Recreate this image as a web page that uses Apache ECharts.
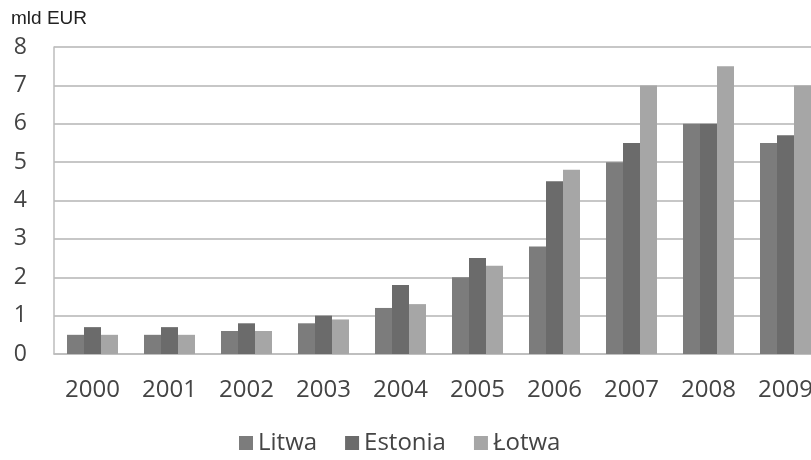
<!DOCTYPE html>
<html>
<head>
<meta charset="utf-8">
<script src="https://cdn.jsdelivr.net/npm/echarts@6/dist/echarts.min.js"></script>
<style>
  html, body { margin: 0; padding: 0; background: #fff; overflow: hidden; }
  /* a bit wider than the window so the last year group is cut off like in the source */
  #chart { width: 824px; height: 460px; }
</style>
</head>
<body>
<div id="chart"></div>
<script>
var years = ["2000", "2001", "2002", "2003", "2004", "2005", "2006", "2007", "2008", "2009"];
var litwa = [0.5, 0.5, 0.6, 0.8, 1.2, 2.0, 2.8, 5.0, 6.0, 5.5];
var estonia = [0.7, 0.7, 0.8, 1.0, 1.8, 2.5, 4.5, 5.5, 6.0, 5.7];
var lotwa = [0.5, 0.5, 0.6, 0.9, 1.3, 2.3, 4.8, 7.0, 7.5, 7.0];

var chart = echarts.init(document.getElementById("chart"));

var option = {
  backgroundColor: "#fff",
  animation: false,
  textStyle: { fontFamily: "Open Sans" },
  title: {
    text: "mld EUR",
    left: 6,
    top: 4,
    textStyle: { fontFamily: "Liberation Sans", fontSize: 19, fontWeight: "normal", color: "#222" }
  },
  legend: {
    top: 426,
    left: 234,
    itemWidth: 14,
    itemHeight: 14,
    itemGap: 28,
    icon: "rect",
    textStyle: { fontSize: 24, color: "#444", padding: [0, 0, 0, 0] },
    data: ["Litwa", "Estonia", "Łotwa"]
  },
  grid: {
    left: 54,
    right: 0,
    top: 47,
    bottom: 106,
    outerBoundsMode: "none"
  },
  xAxis: {
    type: "category",
    data: years,
    axisLine: { lineStyle: { color: "#bdbdbd", width: 1.5 } },
    axisTick: { show: false },
    axisLabel: { fontSize: 24, color: "#444", margin: 24 }
  },
  yAxis: {
    type: "value",
    min: 0,
    max: 8,
    interval: 1,
    axisLine: { show: true, lineStyle: { color: "#bdbdbd", width: 1.5 } },
    axisTick: { show: false },
    splitLine: { lineStyle: { color: "#b5b5b5", width: 1.5 } },
    axisLabel: { fontSize: 23, color: "#444", margin: 27 }
  },
  series: [
    {
      name: "Litwa",
      type: "bar",
      data: litwa,
      barWidth: 17,
      barGap: "0%",
      itemStyle: { color: "#7c7c7c" }
    },
    {
      name: "Estonia",
      type: "bar",
      data: estonia,
      barWidth: 17,
      barGap: "0%",
      itemStyle: { color: "#6b6b6b" }
    },
    {
      name: "Łotwa",
      type: "bar",
      data: lotwa,
      barWidth: 17,
      barGap: "0%",
      itemStyle: { color: "#a6a6a6" }
    }
  ]
};

chart.setOption(option);
</script>
</body>
</html>
